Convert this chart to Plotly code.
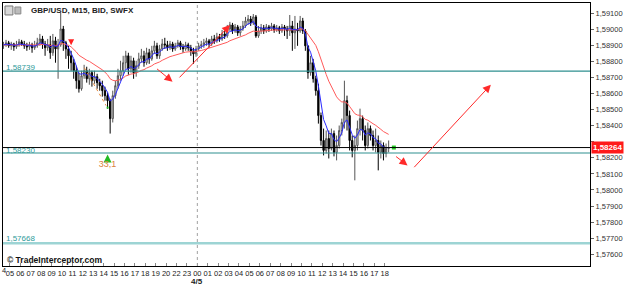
import plotly.graph_objects as go
import pandas as pd

# ---------------- data ----------------
hours = ["04", "05", "06", "07", "08", "09", "10", "11", "12", "13", "14", "15", "16", "17", "18", "19", "20",
         "22", "23", "00", "01", "02", "03", "04", "05", "06", "07", "08", "09", "10", "11", "12", "13", "14",
         "15", "16", "17", "18"]
day_label = "4/5"
day_slot = 76          # 00:00 quarter-hour slot

bar_slot = list(range(1, 150))   # quarter-hour slot of each M15 bar

open_ = [1.58897, 1.58903, 1.58916, 1.58897, 1.58909, 1.58891, 1.58903, 1.58922, 1.58909, 1.58897,
         1.58891, 1.58903, 1.58885, 1.58897, 1.58916, 1.58940, 1.58909, 1.58885, 1.58903, 1.58854,
         1.58928, 1.58878, 1.58903, 1.59002, 1.58916, 1.58878, 1.58835, 1.58792, 1.58742, 1.58680,
         1.58630, 1.58711, 1.58742, 1.58692, 1.58730, 1.58680, 1.58705, 1.58668, 1.58649, 1.58618,
         1.58587, 1.58556, 1.58444, 1.58587, 1.58649, 1.58711, 1.58742, 1.58792, 1.58835, 1.58754,
         1.58804, 1.58730, 1.58773, 1.58816, 1.58835, 1.58792, 1.58854, 1.58816, 1.58866, 1.58897,
         1.58835, 1.58878, 1.58909, 1.58903, 1.58885, 1.58909, 1.58878, 1.58897, 1.58916, 1.58891,
         1.58878, 1.58903, 1.58885, 1.58866, 1.58847, 1.58878, 1.58897, 1.58903, 1.58916, 1.58928,
         1.58909, 1.58940, 1.58928, 1.58953, 1.58940, 1.58971, 1.58959, 1.59002, 1.59027, 1.58990,
         1.59015, 1.58978, 1.59002, 1.59021, 1.59052, 1.59064, 1.59040, 1.59077, 1.58959, 1.58990,
         1.59009, 1.58990, 1.59015, 1.59002, 1.59021, 1.58996, 1.59009, 1.58990, 1.59015, 1.59002,
         1.58990, 1.59021, 1.58978, 1.59002, 1.58990, 1.59052, 1.58990, 1.58897, 1.58730, 1.58792,
         1.58692, 1.58618, 1.58463, 1.58308, 1.58246, 1.58320, 1.58258, 1.58351, 1.58234, 1.58277,
         1.58370, 1.58420, 1.58556, 1.58463, 1.58308, 1.58246, 1.58277, 1.58382, 1.58444, 1.58370,
         1.58277, 1.58382, 1.58339, 1.58277, 1.58308, 1.58234, 1.58277, 1.58227, 1.58258]

high = [1.58922, 1.58934, 1.58928, 1.58922, 1.58916, 1.58928, 1.58940, 1.58934, 1.58928, 1.58916,
        1.58922, 1.58916, 1.58928, 1.58947, 1.58971, 1.58959, 1.58928, 1.58940, 1.58959, 1.58971,
        1.58953, 1.58940, 1.59102, 1.59021, 1.58928, 1.58897, 1.58866, 1.58816, 1.58773, 1.58730,
        1.58742, 1.58779, 1.58767, 1.58754, 1.58742, 1.58742, 1.58723, 1.58692, 1.58680, 1.58643,
        1.58606, 1.58568, 1.58618, 1.58680, 1.58754, 1.58804, 1.58835, 1.58866, 1.58854, 1.58835,
        1.58823, 1.58804, 1.58854, 1.58878, 1.58866, 1.58885, 1.58878, 1.58897, 1.58928, 1.58916,
        1.58903, 1.58940, 1.58947, 1.58928, 1.58928, 1.58922, 1.58916, 1.58934, 1.58928, 1.58909,
        1.58922, 1.58916, 1.58903, 1.58885, 1.58897, 1.58916, 1.58928, 1.58940, 1.58947, 1.58940,
        1.58959, 1.58965, 1.58978, 1.58971, 1.58996, 1.58990, 1.59027, 1.59046, 1.59040, 1.59033,
        1.59027, 1.59021, 1.59052, 1.59077, 1.59089, 1.59083, 1.59095, 1.59089, 1.59021, 1.59033,
        1.59027, 1.59033, 1.59027, 1.59040, 1.59033, 1.59027, 1.59021, 1.59033, 1.59027, 1.59021,
        1.59089, 1.59052, 1.59083, 1.59040, 1.59083, 1.59071, 1.59002, 1.58897, 1.58835, 1.58816,
        1.58711, 1.58661, 1.58482, 1.58382, 1.58370, 1.58370, 1.58382, 1.58370, 1.58339, 1.58401,
        1.58444, 1.58680, 1.58587, 1.58494, 1.58339, 1.58339, 1.58432, 1.58506, 1.58463, 1.58401,
        1.58420, 1.58401, 1.58370, 1.58382, 1.58339, 1.58308, 1.58296, 1.58289, 1.58308]

low = [1.58878, 1.58891, 1.58885, 1.58872, 1.58866, 1.58878, 1.58891, 1.58897, 1.58878, 1.58866,
       1.58872, 1.58854, 1.58872, 1.58885, 1.58897, 1.58878, 1.58835, 1.58866, 1.58816, 1.58835,
       1.58792, 1.58692, 1.58891, 1.58866, 1.58816, 1.58754, 1.58742, 1.58692, 1.58630, 1.58606,
       1.58618, 1.58692, 1.58668, 1.58655, 1.58643, 1.58661, 1.58630, 1.58618, 1.58581, 1.58556,
       1.58506, 1.58351, 1.58420, 1.58568, 1.58630, 1.58680, 1.58711, 1.58754, 1.58717, 1.58730,
       1.58692, 1.58705, 1.58754, 1.58792, 1.58767, 1.58779, 1.58785, 1.58804, 1.58847, 1.58816,
       1.58816, 1.58866, 1.58878, 1.58866, 1.58872, 1.58860, 1.58866, 1.58885, 1.58872, 1.58854,
       1.58866, 1.58866, 1.58835, 1.58785, 1.58829, 1.58866, 1.58878, 1.58885, 1.58897, 1.58885,
       1.58897, 1.58909, 1.58916, 1.58922, 1.58928, 1.58940, 1.58947, 1.58990, 1.58971, 1.58978,
       1.58959, 1.58959, 1.58990, 1.59009, 1.59027, 1.59021, 1.59027, 1.58947, 1.58947, 1.58971,
       1.58971, 1.58978, 1.58984, 1.58990, 1.58978, 1.58984, 1.58971, 1.58978, 1.58959, 1.58940,
       1.58959, 1.58866, 1.58878, 1.58897, 1.58978, 1.58971, 1.58866, 1.58692, 1.58711, 1.58668,
       1.58587, 1.58413, 1.58277, 1.58215, 1.58227, 1.58196, 1.58246, 1.58209, 1.58184, 1.58258,
       1.58339, 1.58382, 1.58370, 1.58246, 1.58203, 1.58060, 1.58246, 1.58339, 1.58308, 1.58246,
       1.58258, 1.58308, 1.58246, 1.58234, 1.58122, 1.58196, 1.58184, 1.58203, 1.58234]

close = [1.58903, 1.58916, 1.58897, 1.58909, 1.58891, 1.58903, 1.58922, 1.58909, 1.58897, 1.58891,
         1.58903, 1.58885, 1.58897, 1.58916, 1.58940, 1.58909, 1.58885, 1.58903, 1.58854, 1.58928,
         1.58878, 1.58903, 1.59002, 1.58916, 1.58878, 1.58835, 1.58792, 1.58742, 1.58680, 1.58630,
         1.58711, 1.58742, 1.58692, 1.58730, 1.58680, 1.58705, 1.58668, 1.58649, 1.58618, 1.58587,
         1.58556, 1.58444, 1.58587, 1.58649, 1.58711, 1.58742, 1.58792, 1.58835, 1.58754, 1.58804,
         1.58730, 1.58773, 1.58816, 1.58835, 1.58792, 1.58854, 1.58816, 1.58866, 1.58897, 1.58835,
         1.58878, 1.58909, 1.58903, 1.58885, 1.58909, 1.58878, 1.58897, 1.58916, 1.58891, 1.58878,
         1.58903, 1.58885, 1.58866, 1.58847, 1.58878, 1.58897, 1.58903, 1.58916, 1.58928, 1.58909,
         1.58940, 1.58928, 1.58953, 1.58940, 1.58971, 1.58959, 1.59002, 1.59027, 1.58990, 1.59015,
         1.58978, 1.59002, 1.59021, 1.59052, 1.59064, 1.59040, 1.59077, 1.58959, 1.58990, 1.59009,
         1.58990, 1.59015, 1.59002, 1.59021, 1.58996, 1.59009, 1.58990, 1.59015, 1.59002, 1.58990,
         1.59021, 1.58978, 1.59002, 1.58990, 1.59052, 1.58990, 1.58897, 1.58730, 1.58792, 1.58692,
         1.58618, 1.58463, 1.58308, 1.58246, 1.58320, 1.58258, 1.58351, 1.58234, 1.58277, 1.58370,
         1.58420, 1.58556, 1.58463, 1.58308, 1.58246, 1.58277, 1.58382, 1.58444, 1.58370, 1.58277,
         1.58382, 1.58339, 1.58277, 1.58308, 1.58234, 1.58277, 1.58227, 1.58258, 1.58264]

level_lines = [1.58739, 1.58230]
level_labels = ["1,58739", "1,58230"]
far_level = 1.57668
far_label = "1,57668"
last_price = 1.58264
last_label = "1,58264"

fast_span = 5
slow_span = 21

signal_slot = [41]
signal_price = [1.58221]
signal_text = ["33,1"]
sell_slot = [27]
sell_price = [1.58900]

y_ticks = [1.576, 1.577, 1.578, 1.579, 1.580, 1.581, 1.582, 1.583, 1.584, 1.585,
           1.586, 1.587, 1.588, 1.589, 1.590, 1.591]
y_hidden = [1.583]      # label covered by the last-price box

# ---------------- figure ----------------
W, H = 625, 289
ML, MR, MT, MB = 3, 30, 2, 23
PW, PH = W - ML - MR, H - MT - MB


def pxx(px):
    return (px - ML) / PW


def pxy(py):
    return (H - MB - py) / PH


bx = [s + 0.5 for s in bar_slot]
cs = pd.Series(close)
fast = cs.ewm(span=fast_span, adjust=False).mean()
slow = cs.ewm(span=slow_span, adjust=False).mean()
y_text = ["" if v in y_hidden else ("%.5f" % v).replace(".", ",") for v in y_ticks]

fig = go.Figure()
fig.add_trace(go.Candlestick(
    x=bx, open=open_, high=high, low=low, close=close,
    increasing=dict(line=dict(color="#555555", width=1), fillcolor="#ffffff"),
    decreasing=dict(line=dict(color="#000000", width=1), fillcolor="#000000"),
    whiskerwidth=0, hoverinfo="skip", showlegend=False))
fig.add_trace(go.Scatter(x=bx, y=slow, mode="lines", line=dict(color="#ff5a5a", width=1),
                         hoverinfo="skip", showlegend=False))
fig.add_trace(go.Scatter(x=bx, y=fast, mode="lines", line=dict(color="#2a2aff", width=1),
                         hoverinfo="skip", showlegend=False))
fig.add_trace(go.Scatter(x=[s + 0.5 for s in signal_slot], y=signal_price, mode="markers+text",
                         marker=dict(symbol="arrow-up", size=8, color="#22bb22"),
                         text=signal_text, textposition="bottom center",
                         textfont=dict(color="#d9823b", size=9, family="Liberation Sans"),
                         hoverinfo="skip", showlegend=False))
fig.add_trace(go.Scatter(x=[s + 0.5 for s in sell_slot], y=sell_price, mode="markers",
                         marker=dict(symbol="arrow-down", size=6, color="#ff2020"),
                         hoverinfo="skip", showlegend=False))
fig.add_trace(go.Scatter(x=[bar_slot[-1] + 2.5], y=[last_price], mode="markers",
                         marker=dict(symbol="square", size=4, color="#22cc22"),
                         hoverinfo="skip", showlegend=False))

shapes = []
# day separator
shapes.append(dict(type="line", xref="x", yref="paper", x0=day_slot, x1=day_slot, y0=0, y1=1,
                   line=dict(color="#a0a0a0", width=1, dash="dot")))
for lv in level_lines:
    shapes.append(dict(type="line", xref="paper", yref="y", x0=0, x1=1, y0=lv, y1=lv,
                       line=dict(color="#2e8f8f", width=1.2)))
shapes.append(dict(type="line", xref="paper", yref="y", x0=0, x1=1, y0=last_price, y1=last_price,
                   line=dict(color="#000000", width=1)))
shapes.append(dict(type="line", xref="paper", yref="y", x0=0, x1=1, y0=far_level, y1=far_level,
                   line=dict(color="#9dd4d4", width=2.5)))
# orange dotted trend line
shapes.append(dict(type="line", xref="paper", yref="paper", x0=pxx(85), y0=pxy(67), x1=pxx(107),
                   y1=pxy(105), line=dict(color="#e8893a", width=1, dash="dot")))
shapes.append(dict(type="rect", xref="paper", yref="paper", x0=pxx(107.5), y0=pxy(106), x1=pxx(109.5),
                   y1=pxy(108), line=dict(width=0), fillcolor="#22bb22"))
# toolbar icons
shapes.append(dict(type="rect", xref="paper", yref="paper", x0=pxx(5), y0=pxy(14), x1=pxx(13), y1=pxy(5),
                   line=dict(color="#777", width=1), fillcolor="#d8d8d8"))
shapes.append(dict(type="rect", xref="paper", yref="paper", x0=pxx(15), y0=pxy(13), x1=pxx(21), y1=pxy(6),
                   line=dict(color="#888", width=1), fillcolor="#bbbbbb"))

ann = []
font_s = dict(family="Liberation Sans, Arial", size=8, color="#222")
ann.append(dict(text="<b>GBP/USD, M15, BID, SWFX</b>", xref="paper", yref="paper", x=pxx(29), y=pxy(10),
                xanchor="left", yanchor="middle", showarrow=False, font=font_s))
ann.append(dict(text="<b>© TradeInterceptor.com</b>", xref="paper", yref="paper", x=pxx(5), y=pxy(260),
                xanchor="left", yanchor="middle", showarrow=False,
                font=dict(family="Liberation Sans, Arial", size=8.5, color="#111")))
for lv, lb, sh in zip(level_lines, level_labels, [4, 3]):
    ann.append(dict(text=lb, xref="paper", yref="y", x=pxx(4), y=lv, yshift=sh,
                    xanchor="left", yanchor="middle", showarrow=False,
                    font=dict(family="Liberation Sans, Arial", size=8, color="#2e9a9a")))
ann.append(dict(text=far_label, xref="paper", yref="y", x=pxx(4), y=far_level, yshift=5,
                xanchor="left", yanchor="middle", showarrow=False,
                font=dict(family="Liberation Sans, Arial", size=8, color="#2e9a9a")))
ann.append(dict(text="<b>" + last_label + "</b>", xref="paper", yref="y", x=1, xshift=1, y=last_price,
                xanchor="left", yanchor="middle", showarrow=False, bgcolor="#ff1a1a", borderpad=1,
                font=dict(family="Liberation Sans, Arial", size=8, color="#ffffff")))
ann.append(dict(text="<b>" + day_label + "</b>", xref="x", yref="paper", x=day_slot, y=pxy(282),
                xanchor="center", yanchor="middle", showarrow=False, font=font_s))
ann.append(dict(text=hours[0][1], xref="paper", yref="paper", x=pxx(0), y=pxy(271),
                xanchor="left", yanchor="middle", showarrow=False,
                font=dict(family="Liberation Sans, Arial", size=7.5, color="#222")))

# red hand-drawn arrows: (tail px, head px)
arrows = [((157, 67), (174, 81)), ((180, 78), (232, 24)), ((398, 155), (411, 165)), ((417, 168), (495, 84))]
for (tx, ty), (hx, hy) in arrows:
    ann.append(dict(text="", xref="paper", yref="paper", x=pxx(hx), y=pxy(hy), ax=tx - hx, ay=ty - hy,
                    showarrow=True, arrowhead=2, arrowsize=1.6, arrowwidth=1, arrowcolor="#ff2a2a",
                    standoff=0))

fig.update_layout(
    width=W, height=H, margin=dict(l=ML, r=MR, t=MT, b=MB),
    paper_bgcolor="white", plot_bgcolor="white",
    separators=", ", showlegend=False, shapes=shapes, annotations=ann,
    xaxis=dict(range=[(ML + 0.5) / 2.625, (W - MR + 0.5) / 2.625], rangeslider=dict(visible=False),
               tickvals=[4 * k for k in range(len(hours))], ticktext=hours,
               ticks="inside", ticklen=3, tickcolor="#888", showgrid=False, zeroline=False,
               showline=True, linecolor="#000", linewidth=1, mirror=True,
               tickfont=dict(family="Liberation Sans, Arial", size=7.5, color="#222")),
    yaxis=dict(range=[1.575268, 1.591636], side="right", tickvals=y_ticks, ticktext=y_text,
               ticks="outside", ticklen=3, tickcolor="#666", showgrid=False, zeroline=False,
               showline=True, linecolor="#000", linewidth=1, mirror=True,
               tickfont=dict(family="Liberation Sans, Arial", size=7.5, color="#333")),
)
fig.write_html("out.html", config={"displayModeBar": False})
